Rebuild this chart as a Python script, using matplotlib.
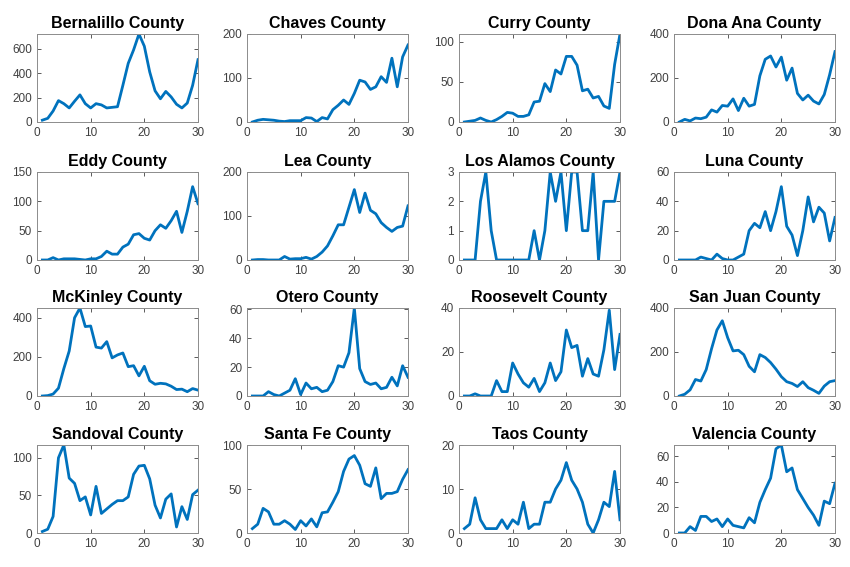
import matplotlib
matplotlib.use('Agg')
import matplotlib.pyplot as plt
import numpy as np
from matplotlib.ticker import MultipleLocator

plt.rcParams['font.family'] = ['Liberation Sans', 'DejaVu Sans']

days = np.arange(1, 31)

counties = [
    'Bernalillo County', 'Chaves County', 'Curry County', 'Dona Ana County',
    'Eddy County', 'Lea County', 'Los Alamos County', 'Luna County',
    'McKinley County', 'Otero County', 'Roosevelt County', 'San Juan County',
    'Sandoval County', 'Santa Fe County', 'Taos County', 'Valencia County',
]

bernalillo = [15, 30, 90, 175, 150, 115, 170, 222, 150, 115, 150, 140, 115, 120, 125,
              300, 480, 590, 720, 620, 410, 255, 190, 250, 205, 145, 115, 155, 300, 510]
chaves = [0, 4, 6, 5, 4, 2, 1, 3, 3, 3, 10, 9, 1, 10, 7,
          28, 38, 50, 40, 65, 95, 91, 74, 80, 103, 90, 145, 80, 148, 175]
curry = [0, 1, 2, 5, 2, 0, 3, 7, 12, 11, 7, 7, 9, 25, 26,
         48, 38, 65, 60, 82, 82, 71, 39, 41, 30, 32, 20, 17, 72, 110]
dona_ana = [0, 12, 5, 18, 15, 22, 55, 45, 75, 72, 105, 52, 108, 72, 80,
            210, 285, 300, 250, 295, 190, 245, 130, 100, 122, 95, 82, 125, 215, 320]
eddy = [0, 0, 4, 0, 2, 2, 2, 1, 0, 2, 2, 6, 15, 10, 10,
        22, 27, 43, 45, 37, 34, 50, 60, 54, 67, 83, 47, 83, 125, 96]
lea = [0, 1, 1, 0, 0, 0, 8, 2, 3, 3, 6, 2, 8, 18, 32,
       55, 80, 80, 120, 160, 108, 152, 113, 105, 85, 74, 65, 74, 77, 123]
los_alamos = [0, 0, 0, 2, 3, 1, 0, 0, 0, 0, 0, 0, 0, 1, 0,
              1, 3, 2, 3, 1, 3, 3, 1, 1, 3, 0, 2, 2, 2, 3]
luna = [0, 0, 0, 0, 2, 1, 0, 4, 1, 0, 0, 2, 4, 20, 25,
        22, 33, 20, 33, 50, 23, 17, 3, 20, 43, 26, 36, 32, 13, 29]
mckinley = [0, 2, 10, 40, 140, 230, 400, 450, 355, 358, 250, 245, 278, 195, 210,
            220, 150, 155, 103, 152, 78, 60, 65, 62, 50, 33, 35, 22, 38, 30]
otero = [0, 0, 0, 3, 1, 0, 2, 4, 12, 1, 9, 5, 6, 3, 4,
         10, 21, 20, 30, 61, 19, 10, 8, 9, 5, 6, 13, 7, 21, 13]
roosevelt = [0, 0, 1, 0, 0, 0, 7, 2, 2, 15, 10, 6, 4, 8, 2,
             6, 15, 7, 11, 30, 22, 23, 9, 17, 10, 9, 21, 39, 12, 28]
san_juan = [0, 8, 28, 75, 68, 120, 215, 300, 342, 265, 205, 208, 188, 135, 110,
            188, 175, 152, 122, 88, 65, 57, 43, 65, 38, 26, 12, 45, 65, 70]
sandoval = [2, 5, 22, 100, 117, 73, 66, 43, 48, 24, 62, 26, 32, 38, 43,
            43, 48, 78, 89, 90, 72, 37, 20, 45, 52, 8, 35, 18, 51, 57]
santa_fe = [5, 10, 28, 24, 10, 10, 14, 10, 4, 14, 8, 16, 7, 23, 24,
            35, 47, 70, 84, 88, 77, 56, 53, 74, 39, 45, 45, 47, 61, 72]
taos = [1, 2, 8, 3, 1, 1, 1, 3, 1, 3, 2, 7, 1, 2, 2,
        7, 7, 10, 12, 16, 12, 10, 7, 2, 0, 3, 7, 6, 14, 3]
valencia = [0, 0, 5, 2, 13, 13, 9, 11, 5, 11, 6, 5, 4, 12, 8,
            24, 34, 43, 66, 69, 48, 51, 34, 27, 20, 14, 6, 25, 23, 39]

series = [bernalillo, chaves, curry, dona_ana, eddy, lea, los_alamos, luna,
          mckinley, otero, roosevelt, san_juan, sandoval, santa_fe, taos, valencia]

# y axis top and tick step per panel
y_top = [720, 200, 110, 400, 150, 200, 3, 60, 450, 61, 40, 400, 117, 100, 20, 69]
y_step = [200, 100, 50, 200, 50, 100, 1, 20, 200, 20, 20, 200, 50, 50, 10, 20]

fig = plt.figure(figsize=(8.5, 5.67), dpi=100)
W, H = 850, 567
col_left = [37, 247, 459, 674]
col_w = 161
row_top = [34, 172, 308, 445]
row_h = 88

for i, (name, vals) in enumerate(zip(counties, series)):
    r, c = divmod(i, 4)
    ax = fig.add_axes([col_left[c] / W, 1 - (row_top[r] + row_h) / H, col_w / W, row_h / H])
    ax.plot(days, vals, color='#0072BD', lw=2)
    ax.set_xlim(0, 30)
    ax.set_ylim(0, y_top[i])
    ax.xaxis.set_major_locator(MultipleLocator(10))
    ax.yaxis.set_major_locator(MultipleLocator(y_step[i]))
    ax.set_title(name, fontsize=11.5, fontweight='bold', pad=4)
    ax.tick_params(direction='in', top=True, right=True, labelsize=8.5,
                   colors='#404040', length=3, width=0.6, pad=3.5)
    for s in ax.spines.values():
        s.set_color('#8c8c8c')
        s.set_linewidth(0.7)

plt.savefig('out.png', dpi=100)
